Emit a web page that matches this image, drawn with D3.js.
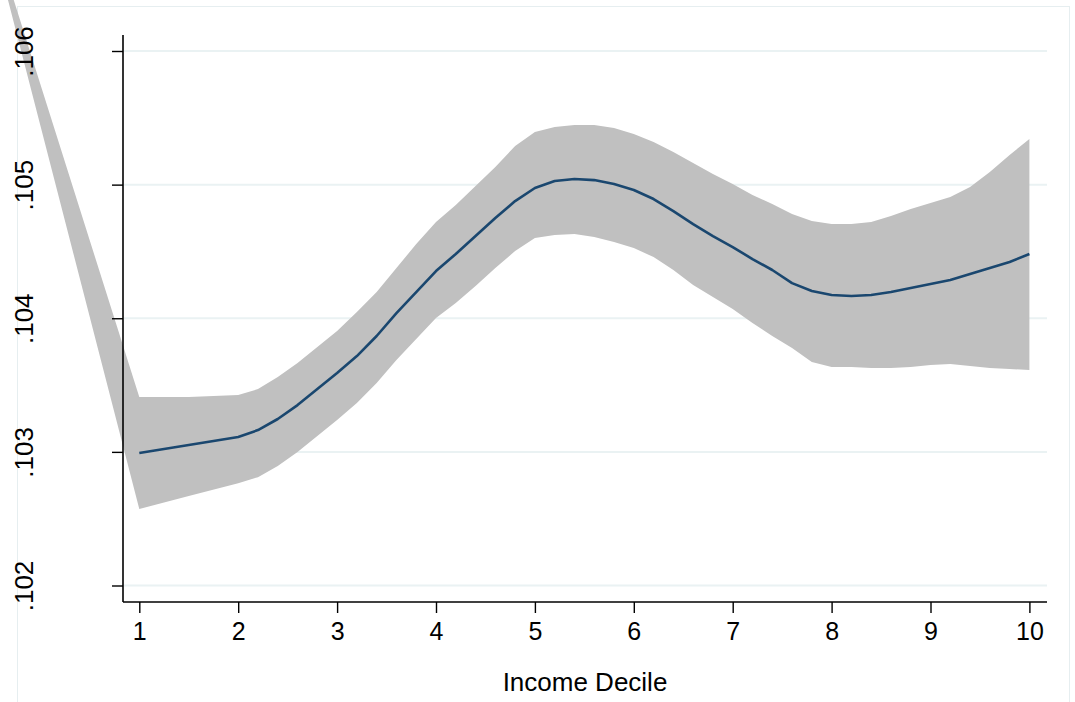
<!DOCTYPE html>
<html>
<head>
<meta charset="utf-8">
<script src="https://cdn.jsdelivr.net/npm/d3@7"></script>
<style>
body { margin: 0; background: #fff; }
text { font-family: "Liberation Sans", Arial, sans-serif; fill: #000; }
</style>
</head>
<body>
<div class="chart"></div>
<script>

const width = 1075;
const height = 702;

// income deciles where the fit was evaluated
const deciles = [1, 1.5, 2, 2.2, 2.4, 2.6, 2.8, 3, 3.2, 3.4, 3.6, 3.8, 4, 4.2, 4.4, 4.6, 4.8, 5, 5.2, 5.4, 5.6, 5.8, 6, 6.2, 6.4, 6.6, 6.8, 7, 7.2, 7.4, 7.6, 7.8, 8, 8.2, 8.4, 8.6, 8.8, 9, 9.2, 9.4, 9.6, 9.8, 10]

const fitted = [.102991, .103051, .103111, .103163, .103246, .103350, .103470, .103590, .103717, .103867, .104039, .104196, .104353, .104481, .104615, .104750, .104877, .104975, .105027, .105042, .105034, .105004, .104960, .104892, .104802, .104705, .104615, .104533, .104443, .104361, .104263, .104204, .104174, .104166, .104174, .104196, .104226, .104256, .104286, .104331, .104376, .104421, .104481]

const ciUpper = [.103410, .103410, .103425, .103470, .103560, .103665, .103784, .103904, .104046, .104196, .104376, .104555, .104720, .104847, .104990, .105132, .105289, .105394, .105431, .105446, .105446, .105424, .105379, .105319, .105244, .105162, .105079, .105004, .104922, .104855, .104780, .104728, .104705, .104705, .104720, .104765, .104817, .104862, .104907, .104982, .105094, .105222, .105341]

const ciLower = [.102572, .102669, .102766, .102811, .102894, .102999, .103118, .103238, .103365, .103515, .103687, .103844, .104001, .104114, .104241, .104376, .104503, .104600, .104623, .104630, .104608, .104570, .104525, .104458, .104361, .104249, .104159, .104069, .103964, .103867, .103777, .103672, .103635, .103635, .103627, .103627, .103635, .103650, .103657, .103642, .103627, .103620, .103612]

// the band has one more point left of decile 1, off the plot
const bandExtra = {decile: -0.5, lower: .106876, upper: .106921}

const xTicks = [1, 2, 3, 4, 5, 6, 7, 8, 9, 10]
const yTicks = [.102, .103, .104, .105, .106]

const margin = {top: 35, right: 28, bottom: 100, left: 123}

const x = d3.scaleLinear()
.domain([1, 10])
.range([139.3, 1029.4]);

const y = d3.scaleLinear()
.domain([.102, .106])
.range([585.5, 51]);

const svg = d3.select('.chart')
.append('svg')
.attr('width', width)
.attr('height', height);

// outer plot region frame
svg.append('rect')
.attr('x', 17.5)
.attr('y', 6.5)
.attr('width', 1052)
.attr('height', 720)
.attr('fill', 'none')
.attr('stroke', '#e6eef0')
.attr('stroke-width', 1);

const grid = svg.append('g')

grid.selectAll('line')
.data(yTicks)
.enter()
.append('line')
.attr('x1', margin.left + 1)
.attr('x2', width - margin.right)
.attr('y1', d => y(d))
.attr('y2', d => y(d))
.attr('stroke', '#eaf2f3')
.attr('stroke-width', 2);

let band = deciles.map((d, i) => ({decile: d, lower: ciLower[i], upper: ciUpper[i]}))
band.unshift(bandExtra)

const area = d3.area()
.x(d => x(d.decile))
.y0(d => y(d.lower))
.y1(d => y(d.upper));

svg.append('path')
.datum(band)
.attr('d', area)
.attr('fill', '#c0c0c0');

const line = d3.line()
.x(d => x(d[0]))
.y(d => y(d[1]));

svg.append('path')
.datum(deciles.map((d, i) => [d, fitted[i]]))
.attr('d', line)
.attr('fill', 'none')
.attr('stroke', '#1a476f')
.attr('stroke-width', 2.6)
.attr('stroke-linejoin', 'round');

const plotBottom = height - margin.bottom;

// axes
const xAxis = svg.append('g')
.attr('transform', `translate(0,${plotBottom})`)
.call(d3.axisBottom(x).tickValues(xTicks).tickSize(11).tickPadding(9).tickFormat(d3.format('d')));

xAxis.select('.domain')
.attr('d', `M${margin.left},0H${width - margin.right}`)
.attr('stroke', '#000')
.attr('stroke-width', 1.6);

xAxis.selectAll('.tick line')
.attr('stroke', '#000')
.attr('stroke-width', 1.4);

xAxis.selectAll('.tick text')
.attr('font-size', 25)
.attr('font-family', '"Liberation Sans", Arial, sans-serif')
.attr('fill', '#000');

const yAxis = svg.append('g')
.attr('transform', `translate(${margin.left},0)`)
.call(d3.axisLeft(y).tickValues(yTicks).tickSize(11).tickFormat(d => d3.format('.3f')(d).replace(/^0/, '')));

yAxis.select('.domain')
.attr('d', `M0,${margin.top}V${plotBottom}`)
.attr('stroke', '#000')
.attr('stroke-width', 1.6);

yAxis.selectAll('.tick line')
.attr('stroke', '#000')
.attr('stroke-width', 1.4);

yAxis.selectAll('.tick text')
.attr('font-size', 26)
.attr('font-family', '"Liberation Sans", Arial, sans-serif')
.attr('fill', '#000')
.attr('x', null)
.attr('dy', null)
.attr('text-anchor', 'middle')
.attr('transform', `translate(${33 - margin.left},0) rotate(-90)`);

svg.append('text')
.attr('x', (margin.left + width - margin.right) / 2)
.attr('y', 691)
.attr('text-anchor', 'middle')
.attr('font-size', 26)
.text('Income Decile');

</script>
</body>
</html>
